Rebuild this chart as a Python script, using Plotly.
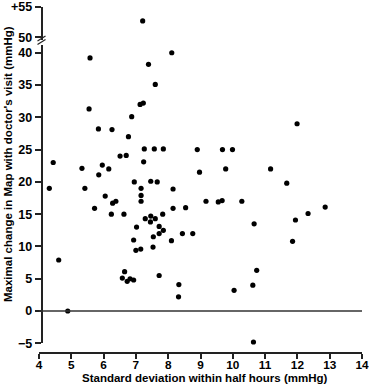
import plotly.graph_objects as go

# Data
sd_x = [7.21, 5.58, 8.11, 7.39, 7.60, 5.55, 7.13, 7.23, 6.87, 5.84, 6.26, 6.77,
        7.26, 7.57, 7.85, 8.90, 9.68, 9.99, 6.51, 6.70, 4.44, 7.24, 5.33, 5.96,
        6.16, 9.78, 11.17, 8.97, 5.85, 11.99, 4.32, 5.42, 6.95, 7.46, 7.66, 7.16,
        8.15, 11.67, 6.05, 6.28, 6.38, 7.16, 7.16, 9.17, 9.55, 9.67, 10.28, 5.72,
        6.24, 6.63, 7.83, 8.15, 8.54, 12.86, 12.33, 7.29, 7.46, 7.60, 7.45, 11.94,
        10.66, 7.02, 7.72, 7.85, 7.72, 8.44, 8.76, 7.54, 6.93, 8.10, 11.85, 7.53,
        7.00, 7.15, 4.61, 7.72, 6.65, 6.58, 6.73, 6.82, 6.93, 10.74, 8.33, 10.62,
        10.04, 8.32, 4.89, 10.64]
map_change = [52.7, 39.2, 40.0, 38.2, 35.1, 31.3, 32.0, 32.2, 30.1, 28.2, 28.1, 27.0,
              25.1, 25.1, 25.1, 25.0, 25.0, 25.0, 24.0, 24.1, 23.0, 23.1, 22.1, 22.6,
              22.0, 22.0, 22.0, 21.5, 21.1, 29.0, 19.0, 19.0, 20.0, 20.1, 20.0, 19.0,
              18.9, 19.8, 17.8, 16.7, 17.0, 17.9, 17.0, 17.0, 16.9, 17.1, 17.0, 15.9,
              15.0, 15.0, 15.0, 15.9, 16.0, 16.1, 15.1, 14.3, 14.7, 14.3, 13.8, 14.1,
              13.5, 13.0, 13.1, 12.5, 12.0, 12.0, 12.0, 11.5, 11.0, 10.9, 10.8, 9.9,
              9.4, 9.6, 7.9, 5.5, 6.1, 5.1, 4.6, 5.0, 4.8, 6.3, 4.1, 4.0,
              3.2, 2.2, 0.0, -4.8]

x_ticks = list(range(4, 15))
y_low_ticks = [-5, 0, 5, 10, 15, 20, 25, 30, 35, 40]
y_up_ticks = [50, 55]
y_up_labels = ["50", "+55"]
break_value = 45

low_x = [x for x, y in zip(sd_x, map_change) if y <= break_value]
low_y = [y for y in map_change if y <= break_value]
up_x = [x for x, y in zip(sd_x, map_change) if y > break_value]
up_y = [y for y in map_change if y > break_value]

W, H = 369, 384
L, R, T, B = 39, 7, 7, 31
pw, ph = W - L - R, H - T - B


def px(xp):
    return (xp - L) / pw


def py(yp):
    return (H - B - yp) / ph


FONT = "Liberation Sans, Arial, sans-serif"
ytickfont = dict(family=FONT, size=12.5, color="black", weight="bold")
xtickfont = dict(family=FONT, size=11.8, color="black", weight="bold")
marker = dict(color="black", size=5.2, line=dict(width=0))

fig = go.Figure()
fig.add_trace(go.Scatter(x=low_x, y=low_y, mode="markers", marker=marker,
                         xaxis="x", yaxis="y", showlegend=False, cliponaxis=False))
fig.add_trace(go.Scatter(x=up_x, y=up_y, mode="markers", marker=marker,
                         xaxis="x", yaxis="y2", showlegend=False, cliponaxis=False))

yaxis_pos = px(41.5)
common_y = dict(showgrid=False, zeroline=False, showline=True, linecolor="#222",
                linewidth=1.5, ticks="outside", ticklen=6, tickwidth=1.5,
                tickcolor="#222", tickfont=ytickfont, anchor="free",
                position=yaxis_pos, automargin=False, ticklabeloverflow="allow")

fig.update_layout(
    width=W, height=H,
    margin=dict(l=L, r=R, t=T, b=B, autoexpand=False),
    paper_bgcolor="white", plot_bgcolor="white",
    xaxis=dict(range=[4, 14], tickvals=x_ticks, showgrid=False, zeroline=False,
               showline=True, linecolor="#222", linewidth=1.5, ticks="outside",
               ticklen=5, tickwidth=1.5, tickcolor="#222", tickfont=xtickfont,
               anchor="free", position=0, domain=[0, 1], automargin=False,
               ticklabeloverflow="allow", ticklabelstandoff=-4),
    yaxis=dict(range=[-5, 41.2], domain=[py(343.3), py(45)], tickvals=y_low_ticks,
               **common_y),
    yaxis2=dict(range=[49.53, 55], domain=[py(40), 1.0], tickvals=y_up_ticks,
                ticktext=y_up_labels, **common_y),
)

# horizontal reference line at zero
fig.add_shape(type="line", xref="x", yref="y", x0=4, x1=14, y0=0, y1=0,
              line=dict(color="#333", width=1.5))

# axis break marks
for dy in (0, 3.5):
    fig.add_shape(type="line", xref="paper", yref="paper",
                  x0=px(37.5), y0=py(44.5 - dy), x1=px(45.5), y1=py(39.5 - dy),
                  line=dict(color="#222", width=1.2))

fig.add_annotation(text="Standard deviation within half hours (mmHg)",
                   xref="paper", yref="paper", x=px(205), y=py(377.5),
                   xanchor="center", yanchor="middle", showarrow=False,
                   font=dict(family=FONT, size=11.5, color="black", weight="bold"))
fig.add_annotation(text="Maximal change in Map with doctor's visit (mmHg)",
                   xref="paper", yref="paper", x=px(8), y=py(164),
                   xanchor="center", yanchor="middle", showarrow=False,
                   textangle=-90,
                   font=dict(family=FONT, size=11.5, color="black", weight="bold"))

fig.write_html("out.html",
               config={"displayModeBar": False},
               post_script="document.body.style.margin='0';"
                           "document.body.style.overflow='hidden';")
